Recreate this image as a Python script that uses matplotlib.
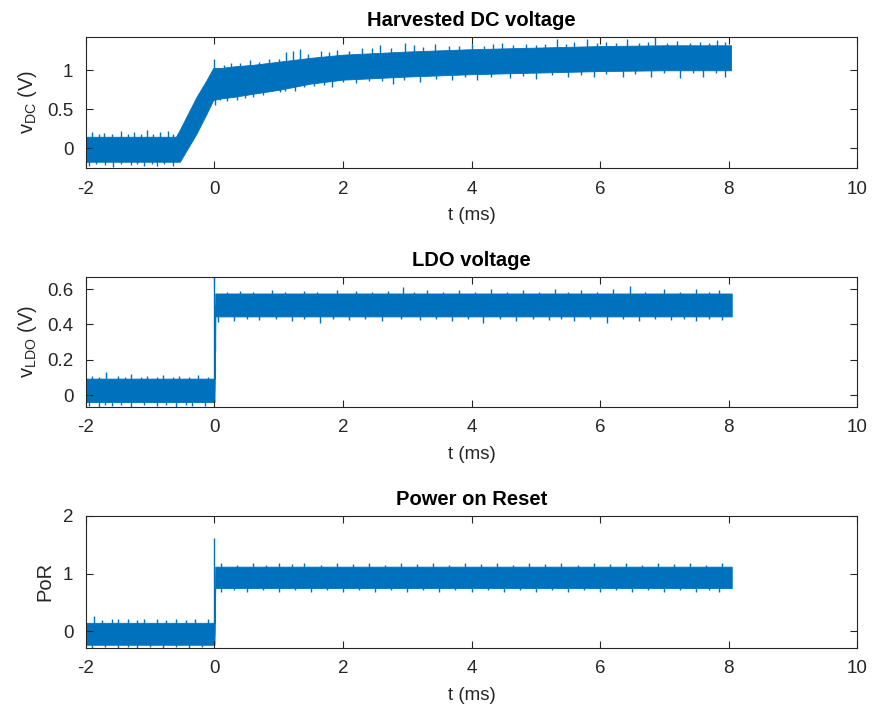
import numpy as np
import matplotlib
matplotlib.use("Agg")
import matplotlib.pyplot as plt

plt.rcParams["font.family"] = ["Liberation Sans", "DejaVu Sans"]
plt.rcParams["mathtext.fontset"] = "custom"
plt.rcParams["mathtext.rm"] = "Liberation Sans"
plt.rcParams["mathtext.it"] = "Liberation Sans"

TRACE = "#0072BD"
AXC = "#262626"

# ---- Harvested DC voltage: noise band (upper / lower envelope) and outlying spikes
vdc_t = [-2.0, -0.6, -0.54, -0.28, -0.12, -0.02, 0.1, 0.3, 0.6, 1.0, 1.5, 2.0,
         3.0, 4.0, 5.0, 6.0, 7.0, 8.04]
vdc_hi = [0.15, 0.15, 0.24, 0.66, 0.88, 1.03, 1.03, 1.05, 1.07, 1.11, 1.16, 1.20,
          1.24, 1.27, 1.29, 1.31, 1.32, 1.32]
vdc_lo = [-0.17, -0.17, -0.17, 0.19, 0.45, 0.62, 0.64, 0.66, 0.70, 0.75, 0.83, 0.88,
          0.92, 0.95, 0.97, 0.99, 1.00, 1.00]
vdc_spike_t = [-1.9, -1.8, -1.72, -1.6, -1.45, -1.35, -1.25, -1.15, -1.05, -0.95, -0.85,
               -0.72, -0.65, 0.0, 0.15, 0.25, 0.4, 0.55, 0.7, 0.85, 1.0, 1.12, 1.22,
               1.33, 1.45, 1.65, 1.78, 1.9, 2.1, 2.3, 2.45, 2.58, 2.75, 2.97, 3.1,
               3.25, 3.43, 3.65, 3.8, 4.0, 4.2, 4.33, 4.47, 4.65, 4.85, 5.0, 5.15,
               5.33, 5.47, 5.6, 5.8, 5.95, 6.1, 6.25, 6.42, 6.6, 6.75, 6.86, 7.05,
               7.2, 7.4, 7.55, 7.7, 7.82, 7.95,
               -1.95, -1.85, -1.7, -1.58, -1.45, -1.3, -1.2, -1.1, -0.98, -0.9, -0.78,
               -0.65, 0.01, 0.08, 0.2, 0.35, 0.48, 0.6, 0.75, 0.9, 1.02, 1.1, 1.25,
               1.4, 1.55, 1.7, 1.83, 2.0, 2.2, 2.4, 2.6, 2.78, 2.95, 3.2, 3.45, 3.7,
               3.9, 4.08, 4.3, 4.6, 4.8, 5.0, 5.25, 5.5, 5.7, 5.9, 6.1, 6.35, 6.55,
               6.8, 7.0, 7.25, 7.45, 7.6, 7.8, 7.95]
vdc_spike_v = [0.21, 0.19, 0.20, 0.19, 0.22, 0.19, 0.21, 0.19, 0.23, 0.19, 0.21,
               0.22, 0.19, 1.15, 1.07, 1.09, 1.09, 1.13, 1.11, 1.15, 1.15, 1.24, 1.25,
               1.27, 1.21, 1.25, 1.23, 1.26, 1.25, 1.29, 1.28, 1.32, 1.29, 1.35, 1.32,
               1.30, 1.33, 1.31, 1.31, 1.33, 1.31, 1.33, 1.35, 1.32, 1.34, 1.32, 1.34,
               1.40, 1.34, 1.36, 1.40, 1.35, 1.36, 1.35, 1.40, 1.35, 1.36, 1.43, 1.35,
               1.37, 1.35, 1.36, 1.35, 1.39, 1.36,
               -0.22, -0.20, -0.21, -0.24, -0.20, -0.21, -0.20, -0.22, -0.20, -0.23,
               -0.20, -0.22, 0.55, 0.62, 0.61, 0.62, 0.64, 0.66, 0.68, 0.73, 0.72,
               0.74, 0.74, 0.78, 0.80, 0.81, 0.78, 0.85, 0.84, 0.86, 0.86, 0.83, 0.88,
               0.85, 0.89, 0.88, 0.91, 0.87, 0.92, 0.90, 0.93, 0.89, 0.94, 0.91, 0.94,
               0.92, 0.95, 0.91, 0.95, 0.92, 0.96, 0.905, 0.96, 0.92, 0.96, 0.91]

# ---- LDO voltage
ldo_t = [-2.0, 0.0, 0.012, 8.05]
ldo_hi = [0.093, 0.093, 0.575, 0.575]
ldo_lo = [-0.04, -0.04, 0.445, 0.445]
ldo_spike_t = [-1.9, -1.8, -1.69, -1.5, -1.4, -1.3, -1.15, -1.05, -0.9, -0.8, -0.65,
               -0.55, -0.4, -0.25, -0.1, 0.0, 0.2, 0.4, 0.6, 0.9, 1.1, 1.4, 1.6, 1.9,
               2.2, 2.45, 2.7, 2.94, 3.1, 3.3, 3.55, 3.8, 4.05, 4.3, 4.55, 4.8, 5.05,
               5.3, 5.5, 5.7, 5.95, 6.2, 6.47, 6.7, 7.0, 7.25, 7.5, 7.7, 7.85,
               -1.95, -1.8, -1.7, -1.6, -1.45, -1.3, -1.1, -0.9, -0.75, -0.6, -0.45,
               -0.35, -0.15, 0.012, 0.05, 0.3, 0.5, 0.7, 0.95, 1.2, 1.4, 1.64, 1.85,
               2.1, 2.35, 2.6, 2.9, 3.2, 3.45, 3.7, 3.95, 4.18, 4.45, 4.7, 4.95, 5.2,
               5.4, 5.6, 5.85, 6.11, 6.35, 6.6, 6.85, 7.1, 7.3, 7.5, 7.7, 7.9]
ldo_spike_v = [0.11, 0.10, 0.13, 0.11, 0.10, 0.12, 0.10, 0.11, 0.10, 0.115, 0.10,
               0.11, 0.10, 0.115, 0.10, 0.67, 0.585, 0.59, 0.585, 0.595, 0.585, 0.59,
               0.585, 0.595, 0.59, 0.585, 0.59, 0.61, 0.585, 0.595, 0.585, 0.595,
               0.585, 0.60, 0.585, 0.595, 0.585, 0.60, 0.585, 0.595, 0.585, 0.60,
               0.615, 0.585, 0.60, 0.585, 0.60, 0.585, 0.595,
               -0.06, -0.066, -0.055, -0.06, -0.055, -0.066, -0.055, -0.06, -0.055,
               -0.066, -0.055, -0.06, -0.065, 0.25, 0.416, 0.42, 0.43, 0.425, 0.43,
               0.42, 0.43, 0.41, 0.43, 0.425, 0.43, 0.42, 0.43, 0.425, 0.43, 0.42,
               0.43, 0.41, 0.43, 0.42, 0.43, 0.425, 0.43, 0.42, 0.43, 0.41, 0.43,
               0.42, 0.43, 0.425, 0.43, 0.42, 0.43, 0.425]

# ---- Power on Reset
por_t = [-2.0, 0.0, 0.012, 8.05]
por_hi = [0.15, 0.15, 1.12, 1.12]
por_lo = [-0.23, -0.23, 0.75, 0.75]
por_spike_t = [-1.88, -1.75, -1.6, -1.5, -1.35, -1.2, -1.1, -0.9, -0.75, -0.6, -0.45,
               -0.3, -0.1, 0.0, 0.1, 0.35, 0.6, 0.8, 1.0, 1.2, 1.4, 1.65, 1.9, 2.15,
               2.4, 2.65, 2.9, 3.15, 3.4, 3.65, 3.9, 4.15, 4.4, 4.65, 4.9, 5.15, 5.4,
               5.65, 5.9, 6.15, 6.4, 6.65, 6.9, 7.15, 7.4, 7.65, 7.9,
               -1.9, -1.7, -1.5, -1.35, -1.2, -1.0, -0.8, -0.6, -0.4, -0.2, 0.1,
               0.3, 0.5, 0.75, 1.0, 1.25, 1.5, 1.75, 2.0, 2.25, 2.5, 2.75, 3.0, 3.25,
               3.5, 3.75, 4.0, 4.25, 4.5, 4.75, 5.0, 5.25, 5.5, 5.75, 6.0, 6.25, 6.5,
               6.75, 7.0, 7.25, 7.5, 7.7, 7.85]
por_spike_v = [0.27, 0.19, 0.22, 0.22, 0.21, 0.19, 0.22, 0.21, 0.19, 0.22, 0.19,
               0.21, 0.22, 1.62, 1.18, 1.15, 1.18, 1.15, 1.19, 1.16, 1.18, 1.15, 1.18,
               1.16, 1.19, 1.15, 1.18, 1.16, 1.19, 1.15, 1.18, 1.16, 1.18, 1.15, 1.19,
               1.16, 1.18, 1.15, 1.19, 1.16, 1.18, 1.15, 1.18, 1.16, 1.19, 1.15, 1.18,
               -0.28, -0.27, -0.28, -0.26, -0.28, -0.27, -0.28, -0.26, -0.28, -0.27,
               0.68, 0.71, 0.69, 0.71, 0.68, 0.71, 0.69, 0.71, 0.68, 0.71, 0.69, 0.71,
               0.68, 0.71, 0.69, 0.71, 0.68, 0.71, 0.69, 0.71, 0.68, 0.71, 0.69, 0.71,
               0.68, 0.71, 0.69, 0.71, 0.68, 0.71, 0.69, 0.71, 0.68]

panels = [
    dict(title="Harvested DC voltage", ylabel=r"v$_{\mathrm{DC}}$ (V)",
         t=vdc_t, hi=vdc_hi, lo=vdc_lo, st=vdc_spike_t, sv=vdc_spike_v,
         ylim=(-0.25, 1.43), yticks=[0, 0.5, 1], yticklabels=["0", "0.5", "1"],
         rect=[0.0985, 0.7627, 0.8832, 0.1855]),
    dict(title="LDO voltage", ylabel=r"v$_{\mathrm{LDO}}$ (V)",
         t=ldo_t, hi=ldo_hi, lo=ldo_lo, st=ldo_spike_t, sv=ldo_spike_v,
         ylim=(-0.066, 0.67), yticks=[0, 0.2, 0.4, 0.6],
         yticklabels=["0", "0.2", "0.4", "0.6"],
         rect=[0.0985, 0.4256, 0.8832, 0.1836]),
    dict(title="Power on Reset", ylabel="PoR",
         t=por_t, hi=por_hi, lo=por_lo, st=por_spike_t, sv=por_spike_v,
         ylim=(-0.28, 2.0), yticks=[0, 1, 2], yticklabels=["0", "1", "2"],
         rect=[0.0985, 0.0852, 0.8832, 0.1864]),
]

fig = plt.figure(figsize=(8.73, 7.08), dpi=100)

for p in panels:
    ax = fig.add_axes(p["rect"])
    t = np.asarray(p["t"])
    hi = np.asarray(p["hi"])
    lo = np.asarray(p["lo"])
    ax.fill_between(t, lo, hi, color=TRACE, linewidth=0.6, edgecolor=TRACE)
    st = np.asarray(p["st"])
    sv = np.asarray(p["sv"])
    base = np.interp(st, t, (hi + lo) / 2)
    ax.vlines(st, base, sv, color=TRACE, linewidth=1.0)

    ax.set_xlim(-2, 10)
    ax.set_ylim(*p["ylim"])
    ax.set_xticks(np.arange(-2, 11, 2))
    ax.set_xticklabels([str(v) for v in range(-2, 11, 2)])
    ax.set_yticks(p["yticks"])
    ax.set_yticklabels(p["yticklabels"])
    ax.tick_params(direction="in", length=5, width=0.8, colors=AXC,
                   labelsize=13.5, top=True, right=True, pad=9)
    for s in ax.spines.values():
        s.set_color(AXC)
        s.set_linewidth(0.8)
    ax.set_xlabel("t (ms)", fontsize=13.5, color=AXC, labelpad=7)
    ax.set_ylabel(p["ylabel"], fontsize=14.5, color=AXC, labelpad=6)
    ax.set_title(p["title"], fontsize=14.5, fontweight="bold", color="black", pad=8)

fig.savefig("out.png", dpi=100)
